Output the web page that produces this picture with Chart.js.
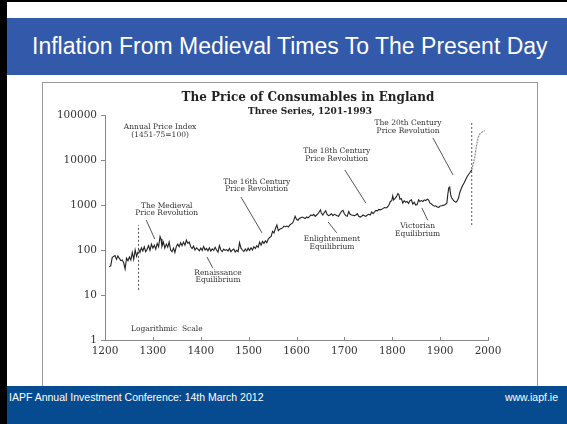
<!DOCTYPE html>
<html>
<head>
<meta charset="utf-8">
<script src="https://cdn.jsdelivr.net/npm/chart.js@4"></script>
<style>
body { margin: 0; width: 567px; height: 424px; overflow: hidden; background: #fff; position: relative; font-family: "Liberation Sans", Arial, sans-serif; }
#edge { position: absolute; left: 0; top: 0; width: 7px; height: 424px; background: #000; }
#topedge { position: absolute; left: 0; top: 0; width: 567px; height: 2px; background: #000; }
#header { position: absolute; left: 7px; top: 18px; width: 560px; height: 57px; background: #3259aa; color: #fff; font-size: 23px; line-height: 57px; padding-left: 25px; box-sizing: border-box; white-space: nowrap; }
#scan { position: absolute; left: 42px; top: 82px; width: 494px; height: 303px; border: 1px solid #9a9a9a; background: #fff; }
#scan canvas { position: absolute; left: 0; top: 0; }
#footer { position: absolute; left: 7px; top: 386px; width: 560px; height: 38px; background: #064b8f; color: #fff; font-size: 10.5px; }
#footer .l { position: absolute; left: 2px; top: 4px; line-height: 14px; }
#footer .r { position: absolute; right: 9px; top: 4px; line-height: 14px; }
</style>
</head>
<body>
<div id="topedge"></div>
<div id="header">Inflation From Medieval Times To The Present Day</div>
<div id="scan"><canvas id="priceChart" width="494" height="303"></canvas></div>
<div id="footer"><span class="l">IAPF Annual Investment Conference: 14th March 2012</span><span class="r">www.iapf.ie</span></div>
<div id="edge"></div>
<script>
var chartTitle = "The Price of Consumables in England";
var chartSubtitle = "Three Series, 1201-1993";
var yTicks = [1, 10, 100, 1000, 10000, 100000];

// first series, before the 1270 break
var earlyYears = [1209, 1212, 1215, 1218, 1221, 1224, 1227, 1230, 1233, 1236, 1239, 1242, 1245, 1248, 1251, 1254, 1257, 1260, 1263, 1266, 1269];
var earlyIndex = [42, 45, 68, 72, 75, 62, 74, 65, 58, 60, 52, 38, 66, 58, 70, 60, 88, 62, 100, 72, 92];

// main series 1270 - 1966
var mainYears = [
  1270, 1273, 1276, 1279, 1282, 1285, 1288, 1291, 1294, 1297,
  1300, 1303, 1306, 1309, 1312, 1315, 1317, 1319, 1322, 1325,
  1328, 1331, 1334, 1337, 1340, 1343, 1346, 1349, 1352, 1355,
  1358, 1361, 1364, 1367, 1370, 1373, 1376, 1379, 1382, 1385,
  1388, 1391, 1394, 1397, 1400, 1403, 1406, 1409, 1412, 1415,
  1418, 1421, 1424, 1427, 1430, 1433, 1436, 1439, 1442, 1445,
  1448, 1451, 1454, 1457, 1460, 1463, 1466, 1469, 1472, 1475,
  1478, 1481, 1484, 1487, 1490, 1493, 1496, 1499, 1502, 1505,
  1508, 1511, 1514, 1517, 1520, 1523, 1526, 1529, 1532, 1535,
  1538, 1541, 1544, 1547, 1550, 1553, 1556, 1559, 1562, 1565,
  1568, 1571, 1574, 1577, 1580, 1583, 1586, 1589, 1592, 1595,
  1597, 1600, 1603, 1606, 1609, 1612, 1615, 1618, 1621, 1624,
  1627, 1630, 1633, 1636, 1639, 1642, 1645, 1648, 1650, 1652,
  1655, 1658, 1661, 1664, 1667, 1670, 1673, 1676, 1679, 1682,
  1685, 1688, 1691, 1694, 1697, 1700, 1703, 1706, 1709, 1712,
  1715, 1718, 1721, 1724, 1727, 1730, 1733, 1736, 1739, 1742,
  1745, 1748, 1751, 1754, 1757, 1760, 1763, 1766, 1769, 1772,
  1775, 1778, 1781, 1784, 1787, 1790, 1793, 1796, 1799, 1801,
  1803, 1806, 1809, 1812, 1814, 1816, 1819, 1822, 1825, 1828,
  1831, 1834, 1837, 1840, 1843, 1846, 1849, 1852, 1855, 1858,
  1861, 1864, 1867, 1870, 1873, 1876, 1879, 1882, 1885, 1888,
  1891, 1894, 1897, 1900, 1903, 1906, 1909, 1912, 1914, 1916,
  1918, 1920, 1922, 1924, 1927, 1930, 1933, 1936, 1939, 1941,
  1944, 1947, 1950, 1953, 1956, 1959, 1962, 1966
];
var mainIndex = [
  105, 88, 112, 95, 118, 92, 104, 125, 98, 135,
  110, 128, 105, 140, 118, 200, 175, 120, 150, 110,
  135, 115, 150, 100, 92, 110, 88, 120, 135, 118,
  145, 125, 150, 128, 165, 140, 150, 118, 108, 122,
  100, 112, 104, 96, 110, 98, 120, 100, 108, 96,
  112, 95, 106, 98, 115, 100, 90, 125, 100, 92,
  105, 98, 102, 95, 108, 92, 100, 105, 90, 98,
  92, 145, 110, 100, 92, 105, 95, 110, 98, 112,
  100, 118, 108, 125, 115, 150, 128, 155, 140, 160,
  145, 175, 190, 200, 260, 240, 300, 360, 270, 290,
  300, 310, 340, 330, 340, 325, 360, 380, 400, 480,
  560, 480, 460, 500, 520, 540, 520, 500, 540, 520,
  550, 600, 580, 620, 560, 600, 640, 720, 780, 660,
  600, 680, 740, 620, 580, 600, 640, 580, 620, 600,
  580, 560, 650, 720, 760, 640, 580, 560, 720, 620,
  600, 590, 580, 600, 640, 560, 540, 560, 600, 580,
  560, 600, 620, 600, 700, 640, 700, 760, 740, 800,
  780, 800, 840, 880, 860, 900, 1000, 1200, 1250, 1600,
  1300, 1400, 1550, 1800, 1700, 1350, 1400, 1100, 1250, 1150,
  1200, 1080, 1250, 1300, 1050, 1150, 1000, 1020, 1300, 1200,
  1250, 1200, 1300, 1250, 1350, 1280, 1100, 1050, 980, 940,
  960, 900, 880, 950, 960, 980, 1000, 1050, 1100, 1700,
  2400, 2500, 1700, 1450, 1300, 1200, 1150, 1250, 1500, 1900,
  2300, 2700, 3100, 3600, 4200, 4700, 5200, 6000
];

// third series, after the 1966 break (drawn lighter)
var modernYears = [1966, 1969, 1972, 1974, 1976, 1978, 1980, 1983, 1986, 1989, 1993];
var modernIndex = [6000, 8000, 11000, 15000, 21000, 27000, 33000, 38000, 40000, 43000, 45000];

// dashed vertical breaks between the series
var breakYears = [1270, 1966];
var breakLow = [13, 360];
var breakHigh = [360, 66000];

// annotations: text, anchor (year, index of first line), leader line ends
var noteText = [
  ["Annual Price Index", "(1451-75=100)"],
  ["The Medieval", "Price Revolution"],
  ["Renaissance", "Equilibrium"],
  ["The 16th Century", "Price Revolution"],
  ["Enlightenment", "Equilibrium"],
  ["The 18th Century", "Price Revolution"],
  ["Victorian", "Equilibrium"],
  ["The 20th Century", "Price Revolution"],
  ["Logarithmic  Scale"]
];
var noteYear = [1315, 1329, 1436, 1517, 1674, 1684, 1853, 1833, 1329];
var noteIndex = [53700, 950, 31, 3240, 175, 15800, 340, 66000, 1.75];
var leaderFrom = [null, [1286, 464], [1413, 70], [1484, 1500], [1666, 420], [1701, 6000], [1862, 860], [1885, 31000], null];
var leaderTo = [null, [1304, 175], [1425, 40], [1528, 240], [1684, 240], [1745, 1100], [1874, 460], [1927, 4650], null];

function toPoints(xs, ys) {
  var pts = [];
  for (var i = 0; i < xs.length; i++) pts.push({x: xs[i], y: ys[i]});
  return pts;
}

var datasets = [
  { data: toPoints(earlyYears, earlyIndex), borderColor: '#222', borderWidth: 1.1 },
  { data: toPoints(mainYears, mainIndex), borderColor: '#222', borderWidth: 1.1 },
  { data: toPoints(modernYears, modernIndex), borderColor: '#8a8a8a', borderWidth: 1.2, borderDash: [2, 1] }
];
for (var b = 0; b < breakYears.length; b++) {
  datasets.push({
    data: [{x: breakYears[b], y: breakLow[b]}, {x: breakYears[b], y: breakHigh[b]}],
    borderColor: '#555', borderWidth: 1, borderDash: [2, 2]
  });
}

var notesPlugin = {
  id: 'notes',
  afterDatasetsDraw: function(chart) {
    var ctx = chart.ctx;
    var xs = chart.scales.x, ys = chart.scales.y;
    ctx.save();

    // x ticks point up into the plot, as in the scan
    ctx.strokeStyle = '#888';
    ctx.lineWidth = 1;
    ctx.beginPath();
    xs.ticks.forEach(function(t) {
      var tx = Math.round(xs.getPixelForValue(t.value)) + 0.5;
      ctx.moveTo(tx, chart.chartArea.bottom);
      ctx.lineTo(tx, chart.chartArea.bottom - 3);
    });
    ctx.stroke();

    ctx.fillStyle = '#222';
    ctx.textAlign = 'center';
    ctx.textBaseline = 'middle';
    ctx.font = 'bold 12px "DejaVu Serif"';
    ctx.fillText(chartTitle, 265, 15);
    ctx.font = 'bold 9px "DejaVu Serif"';
    ctx.fillText(chartSubtitle, 267, 29);

    ctx.fillStyle = '#333';
    ctx.font = '7.5px "DejaVu Serif"';
    for (var i = 0; i < noteText.length; i++) {
      var px = xs.getPixelForValue(noteYear[i]);
      var py = ys.getPixelForValue(noteIndex[i]);
      for (var j = 0; j < noteText[i].length; j++) {
        ctx.fillText(noteText[i][j], px, py + j * 7.5);
      }
      if (leaderFrom[i]) {
        ctx.strokeStyle = '#555';
        ctx.beginPath();
        ctx.moveTo(xs.getPixelForValue(leaderFrom[i][0]), ys.getPixelForValue(leaderFrom[i][1]));
        ctx.lineTo(xs.getPixelForValue(leaderTo[i][0]), ys.getPixelForValue(leaderTo[i][1]));
        ctx.stroke();
      }
    }
    ctx.restore();
  }
};

var priceChart = new Chart("priceChart", {
  type: "line",
  data: { datasets: datasets },
  plugins: [notesPlugin],
  options: {
    responsive: false,
    animation: false,
    devicePixelRatio: 1,
    layout: { padding: { left: 0, right: 49, top: 32, bottom: 0 } },
    elements: { point: { radius: 0 }, line: { tension: 0 } },
    plugins: { legend: { display: false }, tooltip: { enabled: false } },
    scales: {
      x: {
        type: 'linear', min: 1200, max: 2000,
        afterFit: function(s) { s.height = 46; },
        ticks: { stepSize: 100, color: '#333', padding: 5, font: { family: 'DejaVu Serif', size: 10.5 }, maxRotation: 0,
                 callback: function(v) { return String(v); } },
        grid: { drawOnChartArea: false, drawTicks: false, color: '#888' },
        border: { color: '#888' }
      },
      y: {
        type: 'logarithmic', min: 1, max: 100000,
        afterFit: function(s) { s.width = 62; },
        afterBuildTicks: function(s) { s.ticks = yTicks.map(function(v) { return {value: v}; }); },
        ticks: { color: '#333', padding: 4, font: { family: 'DejaVu Serif', size: 10.5 }, callback: function(v) { return String(v); } },
        grid: { drawOnChartArea: false, tickLength: 4, color: '#888' },
        border: { color: '#888' }
      }
    }
  }
});
</script>
</body>
</html>
